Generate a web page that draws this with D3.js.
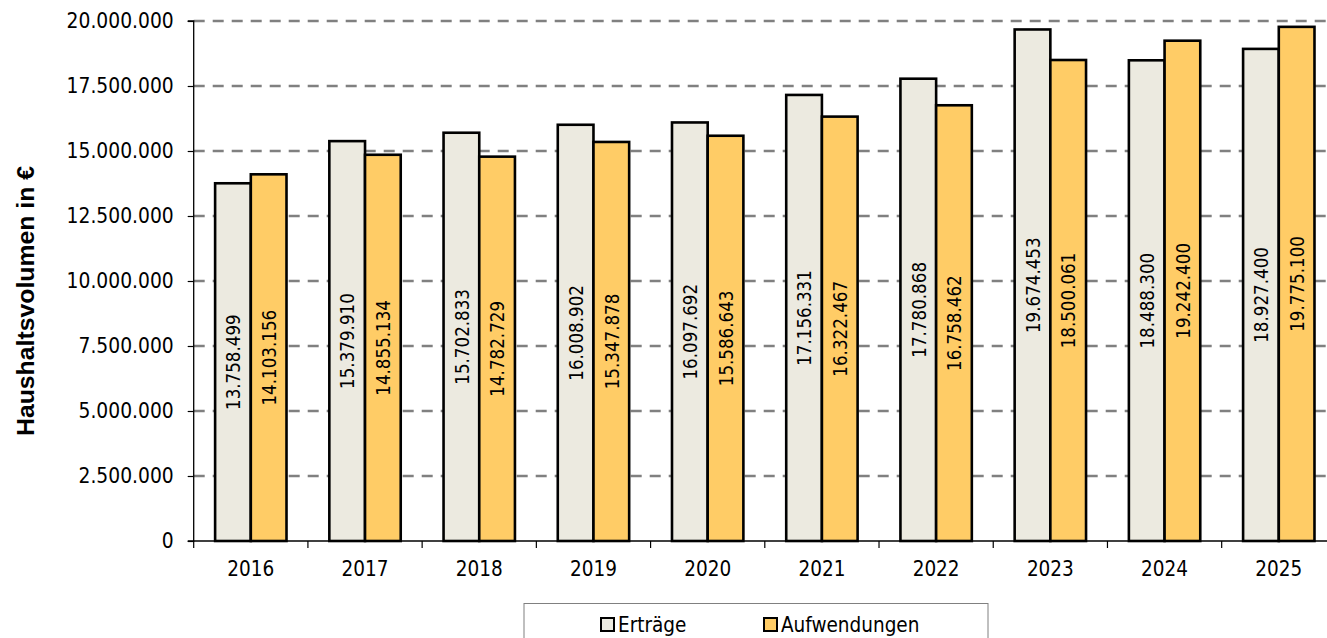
<!DOCTYPE html>
<html><head><meta charset="utf-8">
<script src="https://cdn.jsdelivr.net/npm/d3@7"></script>
<style>
html,body{margin:0;padding:0;background:#fff;overflow:hidden}
svg{display:block}
.tk{font-family:"DejaVu Sans Condensed","DejaVu Sans",sans-serif;font-stretch:condensed;fill:#000}
</style></head><body>
<svg id="c" width="1327" height="638"></svg>
<script>
const years = ["2016","2017","2018","2019","2020","2021","2022","2023","2024","2025"];
const seriesNames = ["Erträge","Aufwendungen"];
const ertraege = [13758499,15379910,15702833,16008902,16097692,17156331,17780868,19674453,18488300,18927400];
const aufwendungen = [14103156,14855134,14782729,15347878,15586643,16322467,16758462,18500061,19242400,19775100];
const yTicks = [0,2500000,5000000,7500000,10000000,12500000,15000000,17500000,20000000];
const colors = ["#ECEAE0","#FFCC66"];
const yTitle = "Haushaltsvolumen in €";

const de = d3.formatLocale({decimal:",",thousands:".",grouping:[3],currency:["","€"]});
const fmt = de.format(",d");

const svg = d3.select("#c");
const pL = 193.7, pR = 1335.9, pT = 21, pB = 541;

const x0 = d3.scaleBand().domain(years).range([pL,pR]).padding(0);
const x1 = d3.scaleBand().domain(seriesNames).range([0,x0.bandwidth()]).paddingInner(0).paddingOuter(0.6);
const y = d3.scaleLinear().domain([0,20000000]).range([pB,pT]);

// gridlines
svg.append("g").selectAll("line").data(yTicks.filter(d=>d>0)).join("line")
  .attr("x1",pL).attr("x2",1327).attr("y1",d=>y(d)).attr("y2",d=>y(d))
  .attr("stroke","#808080").attr("stroke-width",2.3).attr("stroke-dasharray","11,8");

// bars
const data = years.map((yr,i)=>({yr, vals:[{s:seriesNames[0],v:ertraege[i],c:colors[0]},{s:seriesNames[1],v:aufwendungen[i],c:colors[1]}]}));
const g = svg.append("g").selectAll("g").data(data).join("g").attr("transform",d=>`translate(${x0(d.yr)},0)`);
g.selectAll("rect").data(d=>d.vals).join("rect")
  .attr("x",d=>x1(d.s)).attr("width",x1.bandwidth())
  .attr("y",d=>y(d.v)).attr("height",d=>y(0)-y(d.v))
  .attr("fill",d=>d.c).attr("stroke","#000").attr("stroke-width",2.6);
g.selectAll("text").data(d=>d.vals).join("text").attr("class","tk")
  .attr("transform",d=>`translate(${x1(d.s)+x1.bandwidth()/2+0.8},${(y(d.v)+y(0))/2}) rotate(-90)`)
  .attr("text-anchor","middle").attr("dominant-baseline","central")
  .style("font-size","18.6px").text(d=>fmt(d.v));

// y axis
const ya = svg.append("g").attr("transform",`translate(${pL},0)`)
  .call(d3.axisLeft(y).tickValues(yTicks).tickFormat(fmt).tickSize(6).tickPadding(14));
ya.select(".domain").attr("stroke","#000").attr("stroke-width",1.3).attr("d",`M-6,${pT}H0V${pB}H-6`);
ya.selectAll(".tick line").attr("stroke","#000").attr("stroke-width",1.2);
ya.selectAll(".tick text").attr("class","tk").style("font-size","20.8px").attr("fill","#000");
ya.attr("font-family",null).attr("font-size",null);

// x axis
const xa = svg.append("g").attr("transform",`translate(0,${pB})`)
  .call(d3.axisBottom(x0).tickSize(0).tickPadding(20));
xa.select(".domain").attr("stroke","#000").attr("stroke-width",1.5).attr("d",`M${pL},0H1327`);
xa.selectAll(".tick text").attr("class","tk").style("font-size","20.5px").attr("fill","#000");
xa.attr("font-family",null).attr("font-size",null);
svg.append("g").selectAll("line").data(years).join("line")
  .attr("x1",d=>x0(d)).attr("x2",d=>x0(d)).attr("y1",pB).attr("y2",pB+7)
  .attr("stroke","#000").attr("stroke-width",1.2);

// y title
svg.append("text").attr("transform","translate(25,301) rotate(-90)")
  .attr("text-anchor","middle").attr("dominant-baseline","central")
  .style("font-family","'Liberation Sans',Arial,sans-serif").style("font-weight","bold").style("font-size","24.8px")
  .text(yTitle);

// legend
svg.append("rect").attr("x",524).attr("y",603.5).attr("width",464).attr("height",50)
  .attr("fill","#fff").attr("stroke","#808080").attr("stroke-width",1);
const legX = [601,764];
const lg = svg.append("g").selectAll("g").data(seriesNames).join("g")
  .attr("transform",(d,i)=>`translate(${legX[i]},618)`);
lg.append("rect").attr("width",13).attr("height",13).attr("fill",(d,i)=>colors[i]).attr("stroke","#000").attr("stroke-width",2);
lg.append("text").attr("class","tk").attr("x",17).attr("y",7).attr("dominant-baseline","central")
  .style("font-size","20.5px").text(d=>d);
</script></body></html>
